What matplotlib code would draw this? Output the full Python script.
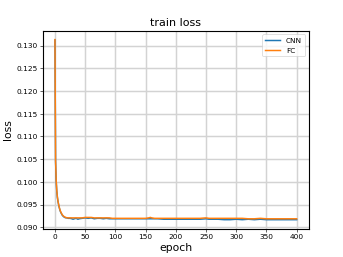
import matplotlib
matplotlib.use("Agg")
import matplotlib.pyplot as plt

epochs = [0, 1, 2, 3, 4, 5, 6, 7, 8, 9, 10, 12, 14, 16, 18, 20, 22, 25, 28, 30, 32, 35, 38, 40,
          45, 50, 55, 60, 65, 70, 75, 80, 85, 90, 95, 100, 110, 120, 130, 140, 150, 155, 158,
          160, 165, 170, 180, 190, 200, 210, 220, 230, 240, 250, 255, 260, 270, 280, 290, 300,
          310, 320, 330, 340, 350, 360, 370, 380, 390, 400]

cnn_loss = [0.1312, 0.1045, 0.1002, 0.0980, 0.0966, 0.0957, 0.0950, 0.0944, 0.0939, 0.0935,
            0.0932, 0.0927, 0.0924, 0.0922, 0.0921, 0.0921, 0.0920, 0.0920, 0.0919, 0.0918,
            0.0919, 0.0920, 0.0918, 0.0919, 0.0920, 0.0921, 0.0920, 0.0921, 0.0919, 0.0920,
            0.0920, 0.0919, 0.0920, 0.0919, 0.0919, 0.0919, 0.0919, 0.0919, 0.0919, 0.0919,
            0.0919, 0.0919, 0.0919, 0.0919, 0.0919, 0.0919, 0.0918, 0.0918, 0.0918, 0.0918,
            0.0918, 0.0918, 0.0918, 0.0919, 0.0918, 0.0918, 0.0918, 0.0917, 0.0917, 0.0918,
            0.0917, 0.0918, 0.0917, 0.0918, 0.0917, 0.0917, 0.0917, 0.0917, 0.0917, 0.0917]

fc_loss = [0.1313, 0.1048, 0.1004, 0.0981, 0.0967, 0.0958, 0.0951, 0.0945, 0.0940, 0.0936,
           0.0933, 0.0928, 0.0925, 0.0923, 0.0922, 0.0921, 0.0921, 0.0921, 0.0921, 0.0921,
           0.0921, 0.0921, 0.0921, 0.0921, 0.0921, 0.0922, 0.0922, 0.0922, 0.0921, 0.0921,
           0.0921, 0.0921, 0.0921, 0.0921, 0.0920, 0.0920, 0.0920, 0.0920, 0.0920, 0.0920,
           0.0920, 0.0921, 0.0922, 0.0921, 0.0920, 0.0920, 0.0920, 0.0920, 0.0920, 0.0920,
           0.0920, 0.0920, 0.0920, 0.0921, 0.0920, 0.0920, 0.0920, 0.0920, 0.0920, 0.0920,
           0.0920, 0.0919, 0.0919, 0.0920, 0.0919, 0.0919, 0.0919, 0.0919, 0.0919, 0.0919]

fig = plt.figure(figsize=(6.4, 4.8), dpi=53.6)
ax = fig.add_subplot(111)
ax.plot(epochs, cnn_loss, color="#1f77b4", lw=2, label="CNN")
ax.plot(epochs, fc_loss, color="#ff7f0e", lw=2, label="FC")
ax.set_title("train loss", fontsize=15)
ax.set_xlabel("epoch", fontsize=14.5)
ax.set_ylabel("loss", fontsize=14.5)
ax.tick_params(labelsize=10)
ax.grid(True, color="#d3d3d3", lw=2)
ax.legend(loc="upper right", fontsize=10)
for s in ax.spines.values():
    s.set_linewidth(1.5)
fig.savefig("out.png", dpi=53.6)
